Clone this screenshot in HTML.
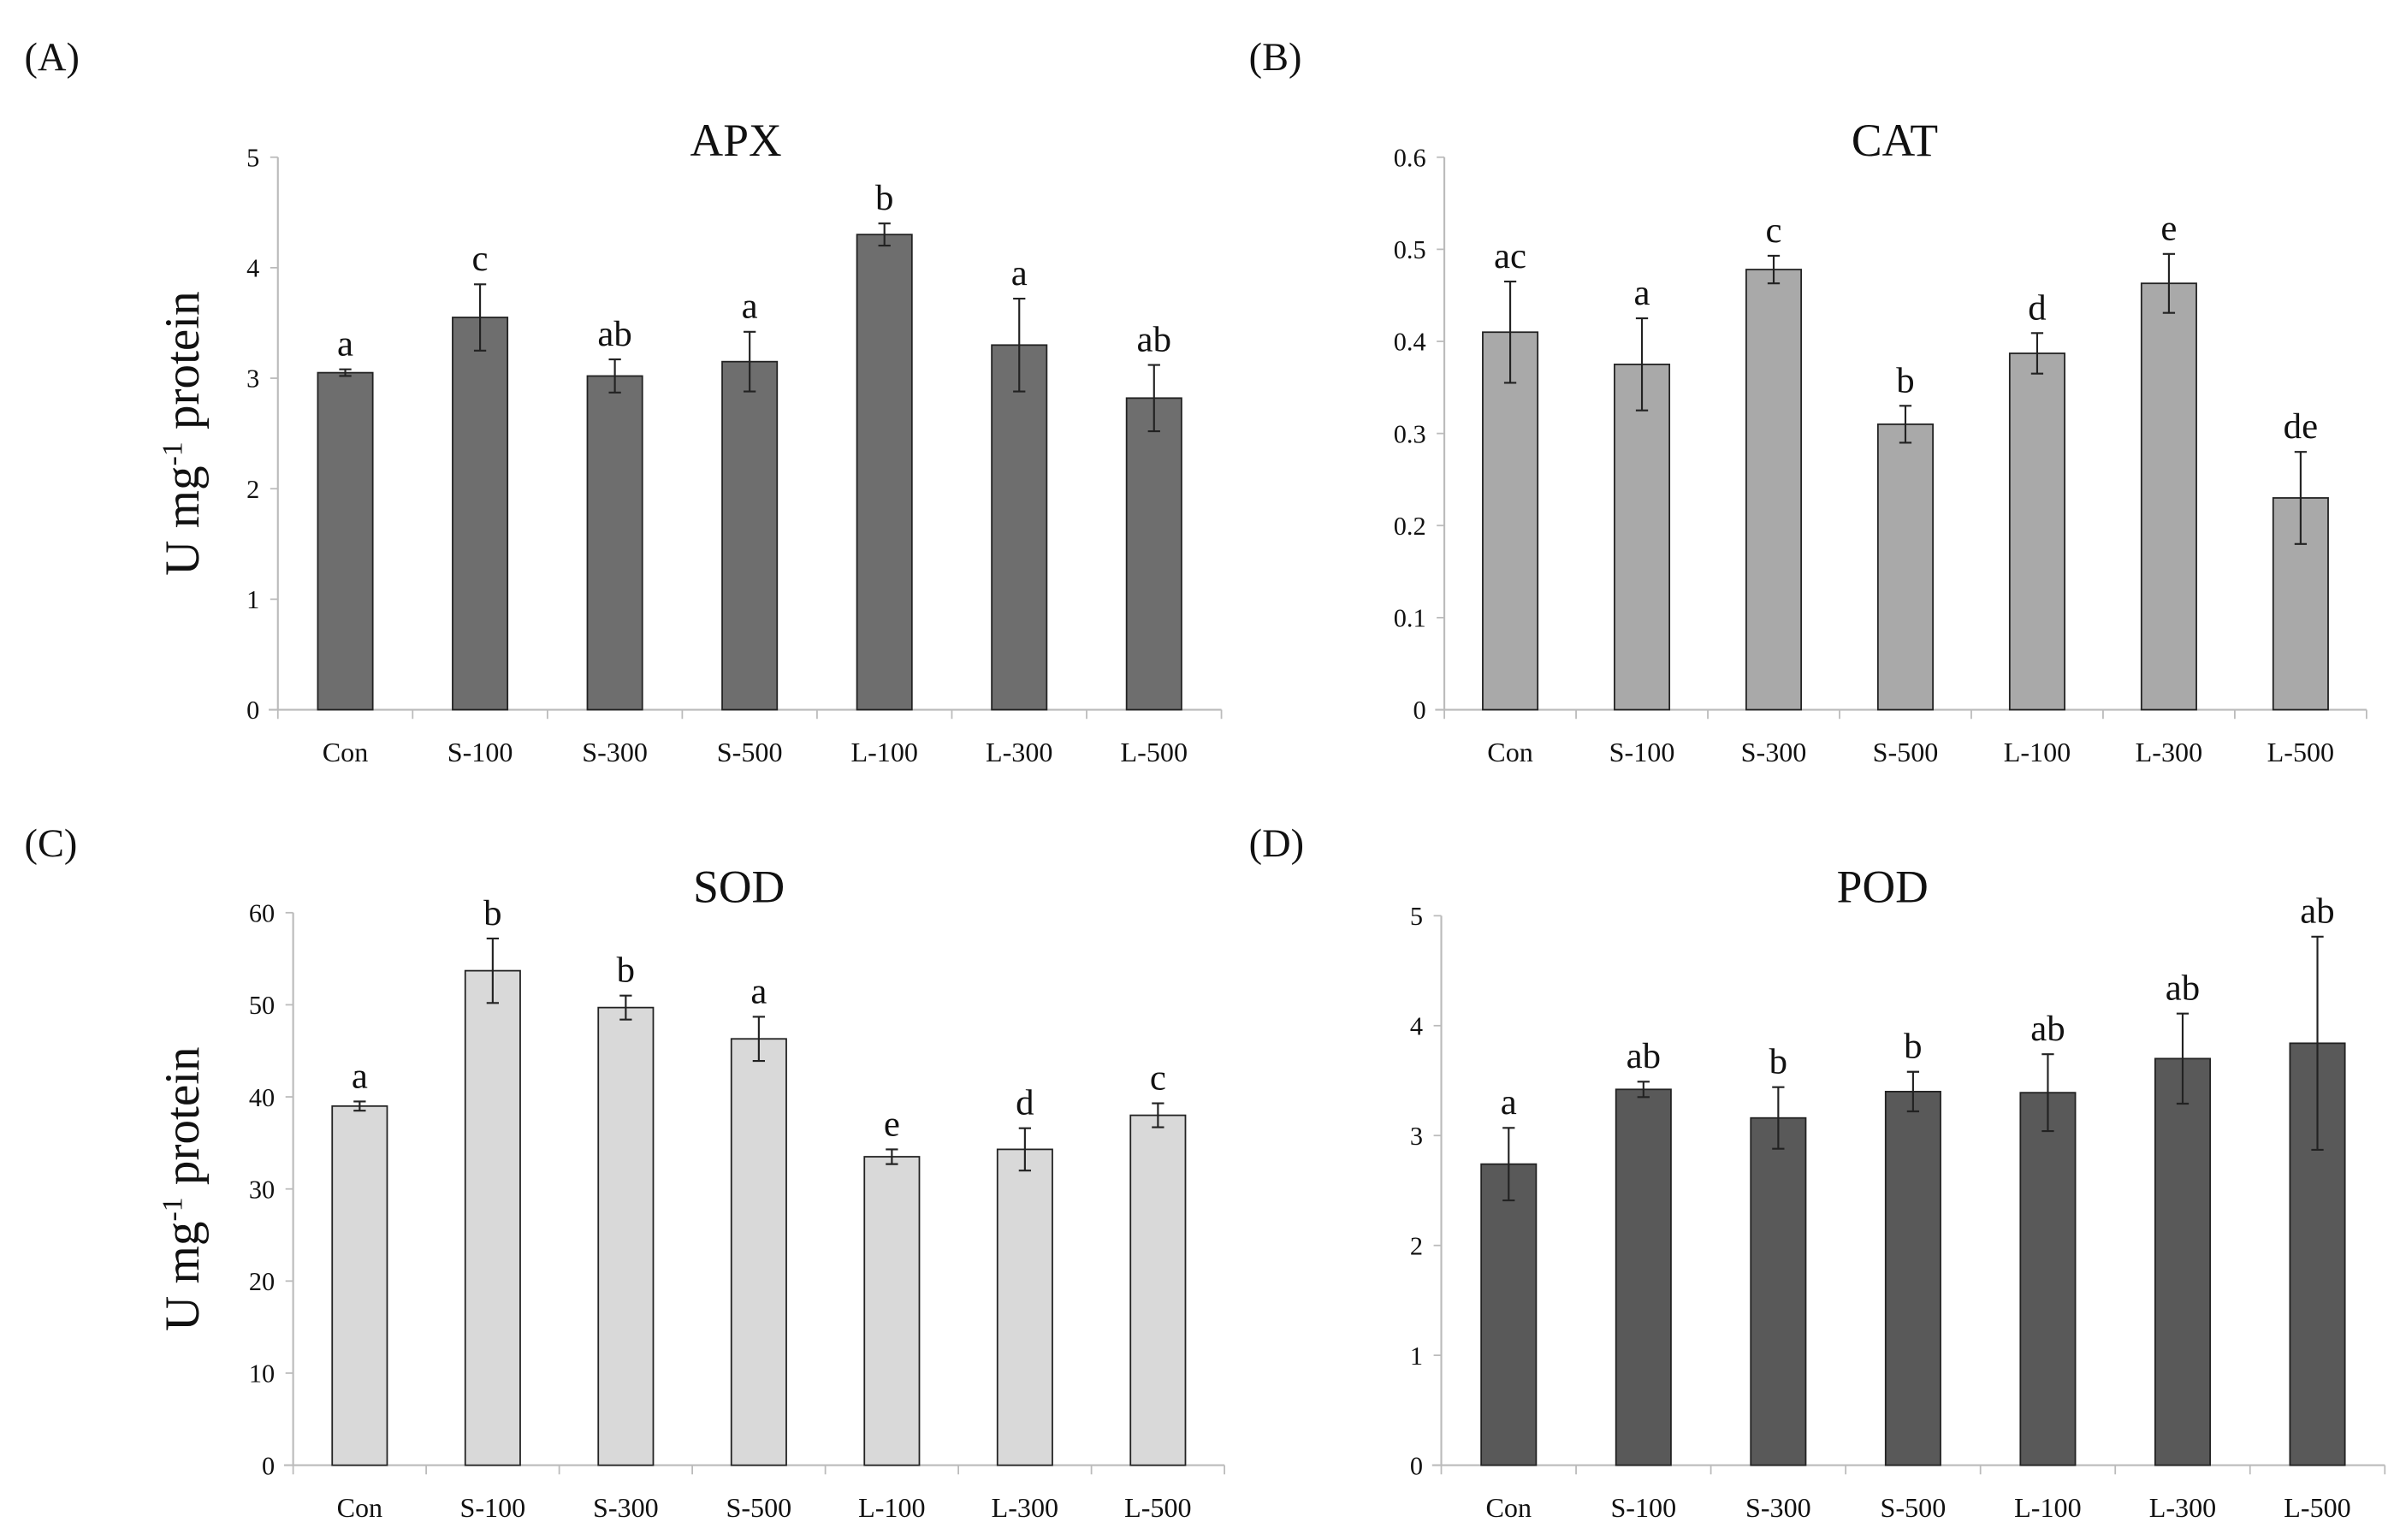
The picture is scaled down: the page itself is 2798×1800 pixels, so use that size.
<!DOCTYPE html>
<html><head><meta charset="utf-8"><style>
html,body{margin:0;padding:0;background:#fff}
svg{display:block}
text{font-family:"Liberation Serif",serif;fill:#111}
</style></head><body>
<svg id="fig" width="2798" height="1800" viewBox="0 0 1568 1009" preserveAspectRatio="none" xmlns="http://www.w3.org/2000/svg"></svg>
<script>
const categories=["Con","S-100","S-300","S-500","L-100","L-300","L-500"];
const apxValues=[3.05,3.55,3.02,3.15,4.3,3.3,2.82];
const apxErrors=[0.03,0.3,0.15,0.27,0.1,0.42,0.3];
const apxLetters=["a","c","ab","a","b","a","ab"];
const apxTicks=[0,1,2,3,4,5];
const catValues=[0.41,0.375,0.478,0.31,0.387,0.463,0.23];
const catErrors=[0.055,0.05,0.015,0.02,0.022,0.032,0.05];
const catLetters=["ac","a","c","b","d","e","de"];
const catTicks=[0,0.1,0.2,0.3,0.4,0.5,0.6];
const sodValues=[39,53.7,49.7,46.3,33.5,34.3,38];
const sodErrors=[0.5,3.5,1.3,2.4,0.8,2.3,1.3];
const sodLetters=["a","b","b","a","e","d","c"];
const sodTicks=[0,10,20,30,40,50,60];
const podValues=[2.74,3.42,3.16,3.4,3.39,3.7,3.84];
const podErrors=[0.33,0.07,0.28,0.18,0.35,0.41,0.97];
const podLetters=["a","ab","b","b","ab","ab","ab"];
const podTicks=[0,1,2,3,4,5];

const svg=document.getElementById('fig');
const NS="http://www.w3.org/2000/svg";
function mk(tag,attrs,parent){const e=document.createElementNS(NS,tag);for(const k in attrs)e.setAttribute(k,attrs[k]);(parent||svg).appendChild(e);return e;}
function txt(x,y,s,size,anchor,parent){const t=mk('text',{x:x,y:y,'font-size':size,'text-anchor':anchor||'middle'},parent);t.textContent=s;return t;}

function panel(cfg){
  const g=mk('g',{});
  
  
  const x0=cfg.x0,x1=cfg.x1,y0=cfg.y0,yt=cfg.yt,max=cfg.ticks[cfg.ticks.length-1];
  const ys=v=>y0-(v/max)*(y0-yt);
  const step=(x1-x0)/categories.length;
  const xs=i=>x0+(i+0.5)*step;
  const pl=txt(cfg.lx,cfg.ly,cfg.label,26,'start',g);
  
  
  const ti=txt(cfg.tx,cfg.ty,cfg.title,30,'middle',g);
  
  
  const ya=mk('line',{x1:x0,y1:yt,x2:x0,y2:y0,stroke:'#bbb','stroke-width':1.2},g);
  
  
  const xa=mk('line',{x1:x0-6,y1:y0,x2:x1,y2:y0,stroke:'#bbb','stroke-width':1.2},g);
  
  
  cfg.ticks.forEach(t=>{
    const tl=txt(x0-12,ys(t)+6,String(t),17,'end',g);
    
    
    mk('line',{x1:x0-5,y1:ys(t),x2:x0,y2:ys(t),stroke:'#bbb','stroke-width':1},g);
  });
  for(let i=0;i<=categories.length;i++){
    mk('line',{x1:x0+i*step,y1:y0,x2:x0+i*step,y2:y0+6,stroke:'#bbb','stroke-width':1},g);
  }
  const bw=36;
  categories.forEach((c,i)=>{
    const v=cfg.values[i],e=cfg.errors[i],cx=xs(i);
    const b=mk('rect',{x:cx-bw/2,y:ys(v),width:bw,height:y0-ys(v),fill:cfg.color,stroke:'#222','stroke-width':1},g);
    
    
    const er=mk('path',{d:`M${cx},${ys(v+e)}V${ys(v-e)}M${cx-4},${ys(v+e)}H${cx+4}M${cx-4},${ys(v-e)}H${cx+4}`,stroke:'#222','stroke-width':1.2,fill:'none'},g);
    
    
    const lt=txt(cx,ys(v+e)-9,cfg.letters[i],24,'middle',g);
    
    
    const cl=txt(cx,y0+34,c,18,'middle',g);
    
    
  });
  if(cfg.ytitle){
    const t=mk('text',{x:0,y:0,'font-size':32,'text-anchor':'middle',transform:`translate(${cfg.ytx},${(y0+yt)/2}) rotate(-90)`},g);
    
    
    t.appendChild(document.createTextNode('U mg'));
    const sp=mk('tspan',{dy:-11,'font-size':19},t);sp.textContent='-1';
    const sp2=mk('tspan',{dy:11},t);sp2.textContent=' protein';
  }
}
panel({name:'apx',label:'(A)',lx:16,ly:46,title:'APX',tx:482,ty:102,x0:182,x1:800,y0:465,yt:103,ticks:apxTicks,values:apxValues,errors:apxErrors,letters:apxLetters,color:'#6e6e6e',ytitle:true,ytx:130});
panel({name:'cat',label:'(B)',lx:818,ly:46,title:'CAT',tx:1241,ty:102,x0:946,x1:1550,y0:465,yt:103,ticks:catTicks,values:catValues,errors:catErrors,letters:catLetters,color:'#a9a9a9'});
panel({name:'sod',label:'(C)',lx:16,ly:561,title:'SOD',tx:484,ty:591,x0:192,x1:802,y0:960,yt:598,ticks:sodTicks,values:sodValues,errors:sodErrors,letters:sodLetters,color:'#d9d9d9',ytitle:true,ytx:130});
panel({name:'pod',label:'(D)',lx:818,ly:561,title:'POD',tx:1233,ty:591,x0:944,x1:1562,y0:960,yt:600,ticks:podTicks,values:podValues,errors:podErrors,letters:podLetters,color:'#595959'});
</script>
</body></html>
